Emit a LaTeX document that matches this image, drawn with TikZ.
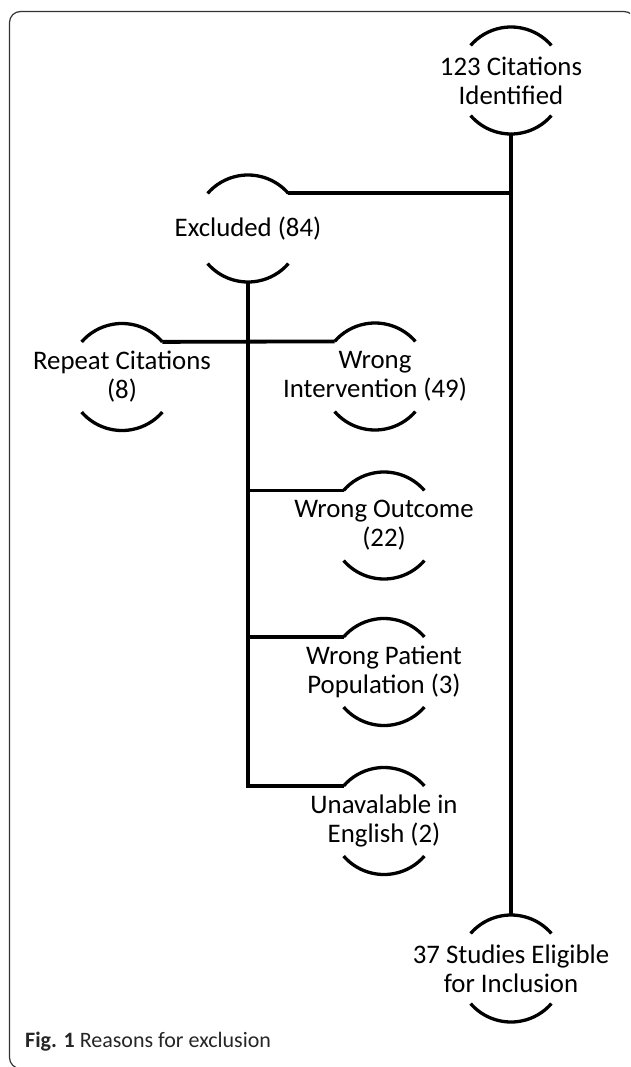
\documentclass[tikz,border=0pt]{standalone}
\usepackage{fontspec}
\setmainfont{Carlito}
\begin{document}
\begin{tikzpicture}[x=1pt,y=1pt,
  lbl/.style={align=center, inner sep=0pt, text=black, font=\fontsize{26.8}{29}\selectfont},
  link/.style={line width=3.8pt, black},
  halfarc/.style={line width=3.3pt, black},
  frame/.style={line width=1.2pt, black!80, rounded corners=11pt},
  captext/.style={anchor=base west, inner sep=0pt, text=black!85, font=\fontsize{22}{25}\selectfont}]
\useasboundingbox (0,0) rectangle (630,-1067);
\begin{scope}
\clip (0,0) rectangle (630,-1067);
\draw[frame] (645,-1068.5) -- (9.5,-1068.5) -- (9.5,-11.5) -- (635,-11.5) -- (635,-1080);
\end{scope}

% nodes
\node[lbl] (top) at (511,-80.5) {123 Citations\\Identified};
\node[lbl] (excl) at (248,-228.5) {Excluded (84)};
\node[lbl] (rep) at (122,-377) {Repeat Citations\\(8)};
\node[lbl] (wi) at (375,-376.5) {Wrong\\Intervention (49)};
\node[lbl] (wo) at (384,-525.5) {Wrong Outcome\\(22)};
\node[lbl] (wpp) at (384,-672) {Wrong Patient\\Population (3)};
\node[lbl] (un) at (384,-821) {Unavalable in\\English (2)};
\node[lbl] (st) at (511,-968.5) {37 Studies Eligible\\for Inclusion};

% half-circle arcs round each node
\foreach \n in {top,excl,rep,wi,wo,wpp,un,st}{
  \coordinate (\n-tr) at ([shift={(41:53.5)}]\n.center);
  \coordinate (\n-tl) at ([shift={(139:53.5)}]\n.center);
  \coordinate (\n-t) at ([shift={(90:53.5)}]\n.center);
  \coordinate (\n-b) at ([shift={(270:53.5)}]\n.center);
  \draw[halfarc] (\n-tr) arc[start angle=41, end angle=139, radius=53.5];
  \draw[halfarc] ([shift={(221:53.5)}]\n.center) arc[start angle=221, end angle=319, radius=53.5];
}

% connectors
\draw[link] (top-b) -- (st-t);
\draw[link] (excl-tr) -- (excl-tr -| top-b);
\draw[link] (excl-b) |- (un-tl);
\draw[link] (rep-tr) -- (wi-tl);
\draw[link] (wo-tl -| excl-b) -- (wo-tl);
\draw[link] (wpp-tl -| excl-b) -- (wpp-tl);

% caption
\node[captext] (caption) at (25,-1047) {\textbf{Fig. 1} Reasons for exclusion};
\end{tikzpicture}
\end{document}
